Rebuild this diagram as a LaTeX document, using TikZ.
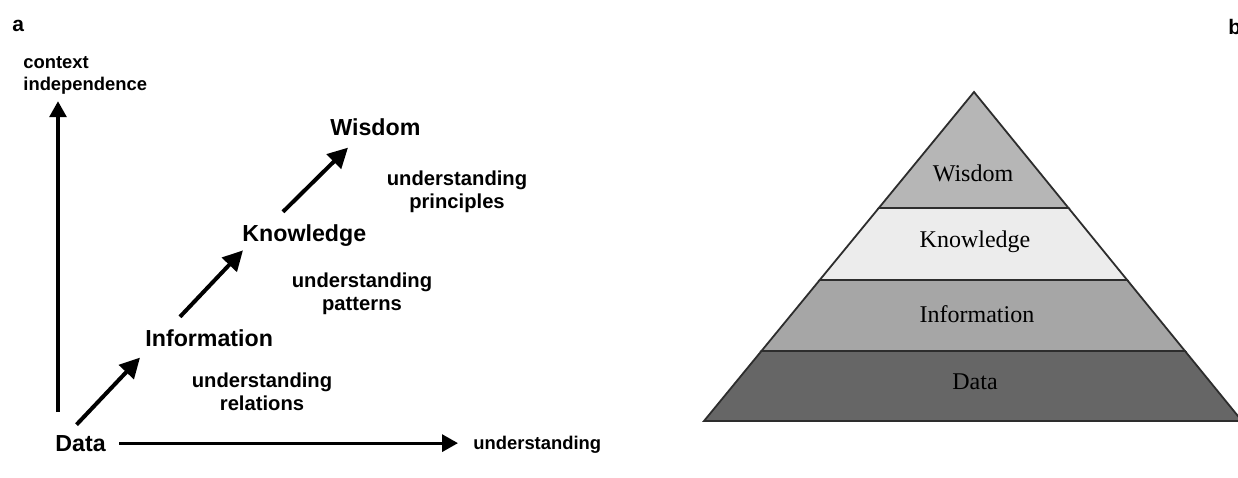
\documentclass[tikz,border=0pt]{standalone}
\usepackage{fontspec}
\setmainfont{Liberation Serif}
\setsansfont{Liberation Sans}
\usetikzlibrary{positioning,arrows.meta,calc,backgrounds}
\definecolor{wisdomgray}{RGB}{182,182,182}
\definecolor{knowgray}{RGB}{236,236,236}
\definecolor{infogray}{RGB}{166,166,166}
\definecolor{datagray}{RGB}{102,102,102}
\definecolor{edgegray}{RGB}{45,45,45}

\begin{document}
\begin{tikzpicture}[
    x=0.5pt, y=-0.5pt,
    stage/.style={inner sep=0pt, anchor=base west, font=\sffamily\bfseries\fontsize{11.6}{14}\selectfont},
    haze/.style={text=black, text opacity=0.16},
    note/.style={inner sep=0pt, anchor=north, align=center, font=\sffamily\bfseries\fontsize{10.1}{11.5}\selectfont},
    axislabel/.style={inner sep=0pt, align=left, font=\sffamily\bfseries\fontsize{9.2}{10.8}\selectfont},
    panel/.style={inner sep=0pt, anchor=base west, font=\sffamily\bfseries\fontsize{10.5}{12}\selectfont},
    climb/.style={-{Triangle[length=10pt,width=10pt]}, line width=2pt},
    axis/.style={-{Triangle[length=8pt,width=8.5pt]}, line width=1.6pt},
    band/.style={draw=edgegray, line width=0.9pt, line join=miter},
    tier/.style={inner sep=0pt, anchor=base, font=\fontsize{12}{14}\selectfont}
]
\path[use as bounding box, fill=white] (0,0) rectangle (1238,477);

% ===== PANEL A: DIKW STAIRCASE =====
\node[panel] (tag_a) at (12,31) {a};
\node[axislabel, anchor=north west] (ctx) at (23,56) {context\\independence};

\node[stage] (data) at (55,451) {Data};
\node[stage] (info) at (145,346) {Information};
\node[stage] (know) at (242,241) {Knowledge};
\node[stage] (wis) at (330,135) {Wisdom};

\node[note] (n_rel) at (262,372) {understanding\\relations};
\node[note] (n_pat) at (362,272) {understanding\\patterns};
\node[note] (n_pri) at (457,170) {understanding\\principles};

\node[axislabel, anchor=base west] (xlab) at (473,449) {understanding};

% axes
\coordinate (orig) at (58,412);
\draw[axis] (orig) -- ([yshift=-3.5pt]orig |- ctx.south);
\draw[axis, shorten <=6.5pt, shorten >=7.5pt] (data.east) -- (data.east -| xlab.west);

% steps up the ladder
\draw[climb] ($(data.north)+(-4,-10)$) -- ($(info.south west)+(-5,11)$);
\draw[climb] ($(info.north west)+(35,-12)$) -- ($(know.south west)+(1,4)$);
\draw[climb] ($(know.north west)+(41,-12)$) -- ($(wis.south west)+(18,12)$);

% soft shadow behind the stage names
\begin{pgfonlayer}{background}
    \foreach \dx/\dy in {-4/4, -3/6, -5/3, -2/4, -4/7, -6/5} {
        \node[stage, haze] at ($(data.base west)+(\dx,\dy)$) {Data};
        \node[stage, haze] at ($(info.base west)+(\dx,\dy)$) {Information};
        \node[stage, haze] at ($(know.base west)+(\dx,\dy)$) {Knowledge};
        \node[stage, haze] at ($(wis.base west)+(\dx,\dy)$) {Wisdom};
    }
\end{pgfonlayer}

% ===== PANEL B: DIKW PYRAMID =====
\node[panel] (tag_b) at (1228,34) {b};

\coordinate (apex) at (974,92);
\coordinate (bl) at (704,421);
\coordinate (br) at (1242,421);
\coordinate (l1) at ($(apex)!0.3526!(bl)$);
\coordinate (r1) at ($(apex)!0.3526!(br)$);
\coordinate (l2) at ($(apex)!0.5714!(bl)$);
\coordinate (r2) at ($(apex)!0.5714!(br)$);
\coordinate (l3) at ($(apex)!0.787!(bl)$);
\coordinate (r3) at ($(apex)!0.787!(br)$);

\filldraw[band, fill=wisdomgray] (apex) -- (l1) -- (r1) -- cycle;
\filldraw[band, fill=knowgray] (l1) -- (l2) -- (r2) -- (r1) -- cycle;
\filldraw[band, fill=infogray] (l2) -- (l3) -- (r3) -- (r2) -- cycle;
\filldraw[band, fill=datagray] (l3) -- (bl) -- (br) -- (r3) -- cycle;

\node[tier] (p_wis) at (973,181) {Wisdom};
\node[tier] (p_know) at (975,247) {Knowledge};
\node[tier] (p_info) at (977,322) {Information};
\node[tier] (p_data) at (975,389) {Data};

\end{tikzpicture}
\end{document}
